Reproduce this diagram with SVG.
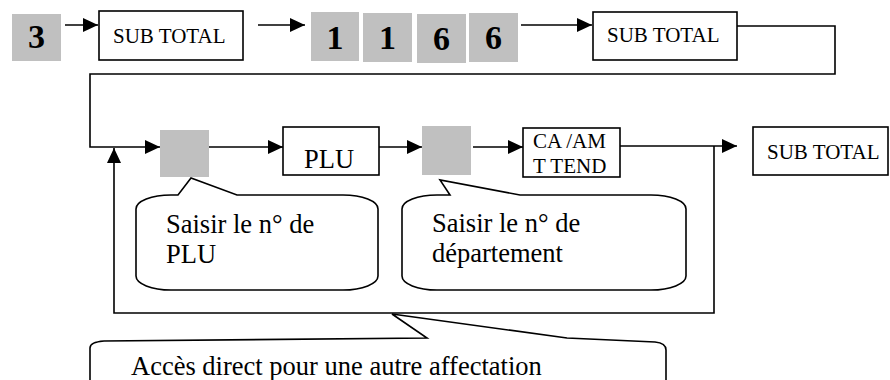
<svg xmlns="http://www.w3.org/2000/svg" width="890" height="380" viewBox="0 0 890 380">
  <style>
    .key { fill: #c0c0c0; }
    .box { fill: #ffffff; stroke: #000000; stroke-width: 1.6; }
    .bubble { fill: #ffffff; stroke: #000000; stroke-width: 1.6; stroke-linejoin: miter; }
    .wire { fill: none; stroke: #000000; stroke-width: 1.6; }
    .digit { font-family: "Liberation Serif", "Times New Roman", serif; font-weight: bold; font-size: 34px; text-anchor: middle; fill: #000000; }
    .label { font-family: "Liberation Serif", "Times New Roman", serif; font-size: 21px; fill: #000000; }
    .note { font-family: "Liberation Serif", "Times New Roman", serif; font-size: 26.5px; fill: #000000; }
  </style>
  <defs>
    <marker id="arrow" markerUnits="userSpaceOnUse" markerWidth="15" markerHeight="14" refX="15" refY="7" orient="auto">
      <path d="M0,0 L15,7 L0,14 Z" fill="#000000"/>
    </marker>
  </defs>

  <!-- connectors -->
  <g id="connectors">
    <line class="wire" x1="65" y1="25" x2="98" y2="25" marker-end="url(#arrow)"/>
    <line class="wire" x1="258" y1="25" x2="305" y2="25" marker-end="url(#arrow)"/>
    <line class="wire" x1="521" y1="25" x2="592" y2="25" marker-end="url(#arrow)"/>
    <polyline class="wire" points="737,26 835,26 835,74 90,74 90,147 160,147" marker-end="url(#arrow)"/>
    <line class="wire" x1="209" y1="147" x2="283" y2="147" marker-end="url(#arrow)"/>
    <line class="wire" x1="379" y1="147" x2="422" y2="147" marker-end="url(#arrow)"/>
    <line class="wire" x1="473" y1="147" x2="523" y2="147" marker-end="url(#arrow)"/>
    <line class="wire" x1="620" y1="146" x2="737" y2="146" marker-end="url(#arrow)"/>
    <polyline class="wire" points="714,146 714,313 114,313 114,148" marker-end="url(#arrow)"/>
  </g>

  <!-- top row -->
  <g id="key-3">
    <rect class="key" x="12" y="14" width="49" height="47"/>
    <text class="digit" x="36.5" y="48">3</text>
  </g>
  <g id="subtotal-1">
    <rect class="box" x="99" y="11" width="144" height="49"/>
    <text class="label" x="113" y="43">SUB TOTAL</text>
  </g>
  <g id="key-1a">
    <rect class="key" x="311" y="12" width="48" height="49"/>
    <text class="digit" x="335" y="49">1</text>
  </g>
  <g id="key-1b">
    <rect class="key" x="363" y="13" width="49" height="49"/>
    <text class="digit" x="387.5" y="49">1</text>
  </g>
  <g id="key-6a">
    <rect class="key" x="417" y="14" width="49" height="49"/>
    <text class="digit" x="441.5" y="50">6</text>
  </g>
  <g id="key-6b">
    <rect class="key" x="469" y="13" width="49" height="49"/>
    <text class="digit" x="493.5" y="49">6</text>
  </g>
  <g id="subtotal-2">
    <rect class="box" x="593" y="12" width="144" height="48"/>
    <text class="label" x="607" y="42">SUB TOTAL</text>
  </g>

  <!-- second row -->
  <g id="key-plu">
    <rect class="key" x="160" y="130" width="49" height="47"/>
  </g>
  <g id="plu">
    <rect class="box" x="283" y="127" width="96" height="48"/>
    <text class="note" x="304" y="168">PLU</text>
  </g>
  <g id="key-dept">
    <rect class="key" x="422" y="126" width="49" height="49"/>
  </g>
  <g id="ca-amt">
    <rect class="box" x="523" y="128" width="97" height="49"/>
    <text class="label" x="533" y="148">CA /AM</text>
    <text class="label" x="533" y="173">T TEND</text>
  </g>
  <g id="subtotal-3">
    <rect class="box" x="753" y="127" width="135" height="48"/>
    <text class="label" x="767" y="159">SUB TOTAL</text>
  </g>

  <!-- callouts -->
  <g id="note-plu">
    <path class="bubble" d="M136,209 A35,14 0 0 1 171,195 L178,195 L191,178 L237,195 L343,195 A35,14 0 0 1 378,209 L378,276 A35,14 0 0 1 343,290 L171,290 A35,14 0 0 1 136,276 Z"/>
    <text class="note" x="166" y="233">Saisir le n° de</text>
    <text class="note" x="166" y="263">PLU</text>
  </g>
  <g id="note-dept">
    <path class="bubble" d="M402,209 A35,14 0 0 1 437,195 L450,195 L440,180 L520,195 L651,195 A35,14 0 0 1 686,209 L686,276 A35,14 0 0 1 651,290 L437,290 A35,14 0 0 1 402,276 Z"/>
    <text class="note" x="432" y="232">Saisir le n° de</text>
    <text class="note" x="432" y="262">département</text>
  </g>
  <g id="note-direct">
    <path class="bubble" d="M90,400 L90,348 Q90,342 104,341 L427,338 L392,314 L567,338 L655,342 Q666,343 666,350 L666,400"/>
    <text class="note" x="131" y="375">Accès direct pour une autre affectation</text>
  </g>
</svg>
